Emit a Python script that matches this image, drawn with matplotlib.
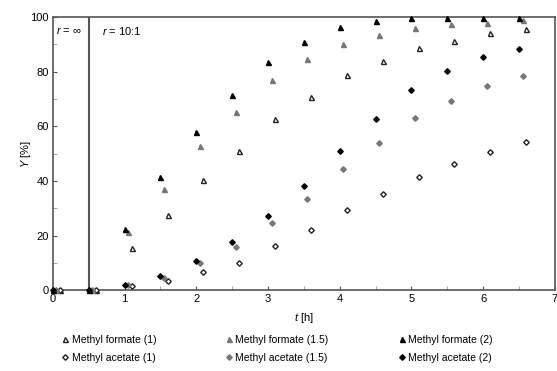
import matplotlib.pyplot as plt
import numpy as np

plt.rcParams['font.family'] = ['Liberation Sans', 'DejaVu Sans']
plt.rcParams['mathtext.fontset'] = 'custom'
plt.rcParams['mathtext.it'] = 'Liberation Sans:italic'
plt.rcParams['mathtext.rm'] = 'Liberation Sans'

# sampling times [h]
t = np.array([0, 0.5, 1.0, 1.5, 2.0, 2.5, 3.0, 3.5, 4.0, 4.5, 5.0, 5.5, 6.0, 6.5])

# yields Y [%]
mf_1   = [0, 0, 15.5, 27.5, 40.5, 51.0, 62.5, 70.8, 78.9, 84.0, 88.5, 91.3, 94.0, 95.5]
mf_15  = [0, 0, 21.4, 36.9, 52.9, 65.3, 77.0, 84.5, 90.3, 93.6, 96.1, 97.3, 97.9, 98.9]
mf_2   = [0, 0, 22.3, 41.4, 58.0, 71.4, 83.4, 91.0, 96.4, 98.6, 99.5, 99.7, 99.8, 99.8]
ma_1   = [0, 0, 1.5, 3.3, 6.5, 10.1, 16.1, 22.0, 29.3, 35.2, 41.5, 46.2, 50.7, 54.3]
ma_15  = [0, 0, 2.0, 4.6, 9.8, 15.9, 24.4, 33.3, 44.2, 53.7, 63.1, 69.2, 74.8, 78.5]
ma_2   = [0, 0, 1.8, 5.2, 10.7, 17.6, 27.2, 38.1, 50.9, 62.6, 73.3, 80.3, 85.3, 88.2]

fig = plt.figure(figsize=(5.57, 3.71), dpi=100)
ax = fig.add_axes([0.095, 0.218, 0.901, 0.736])

ms = 3.6
series = [
    (mf_1,  '^', 'white',   '#222222', 0.10, 'Methyl formate (1)'),
    (ma_1,  'D', 'white',   '#222222', 0.10, 'Methyl acetate (1)'),
    (mf_15, '^', '#777777', '#777777', 0.05, 'Methyl formate (1.5)'),
    (ma_15, 'D', '#777777', '#777777', 0.05, 'Methyl acetate (1.5)'),
    (mf_2,  '^', 'black',   'black',   0.0,  'Methyl formate (2)'),
    (ma_2,  'D', 'black',   'black',   0.0,  'Methyl acetate (2)'),
]
for y, m, fc, ec, dx, lab in series:
    size = ms if m == '^' else ms - 0.8
    ax.plot(t + dx, y, linestyle='none', marker=m, markersize=size,
            markerfacecolor=fc, markeredgecolor=ec, markeredgewidth=1.0,
            label=lab, clip_on=False, zorder=3)

ax.axvline(0.5, color='#555555', linewidth=1.5, zorder=2)
ax.text(0.04, 95, r'$r$ = ∞', fontsize=8, va='center')
ax.text(0.68, 95, r'$r$ = 10:1', fontsize=8, va='center')

ax.set_xlim(0, 7)
ax.set_ylim(0, 100)
ax.set_xticks(np.arange(0, 8, 1))
ax.set_xticks(np.arange(0.5, 7, 1), minor=True)
ax.set_yticks(np.arange(0, 101, 20))
ax.set_yticks(np.arange(10, 100, 20), minor=True)
ax.tick_params(which='major', direction='in', length=3, labelsize=8,
               color='#555555', pad=3)
ax.tick_params(which='minor', direction='in', length=3, color='#999999')
for s in ax.spines.values():
    s.set_color('#555555')
    s.set_linewidth(1.2)

ax.set_xlabel(r'$t$ [h]', fontsize=8, labelpad=5)
ax.set_ylabel(r'$Y$ [%]', fontsize=8)
ax.yaxis.set_label_coords(-0.04, 0.5)

ax.legend(loc='upper center', bbox_to_anchor=(0.445, -0.13), ncol=3,
          frameon=False, fontsize=7.5, handletextpad=0.1, handlelength=1.0,
          columnspacing=6.5, labelspacing=0.75)

plt.savefig('out.png', dpi=100)
